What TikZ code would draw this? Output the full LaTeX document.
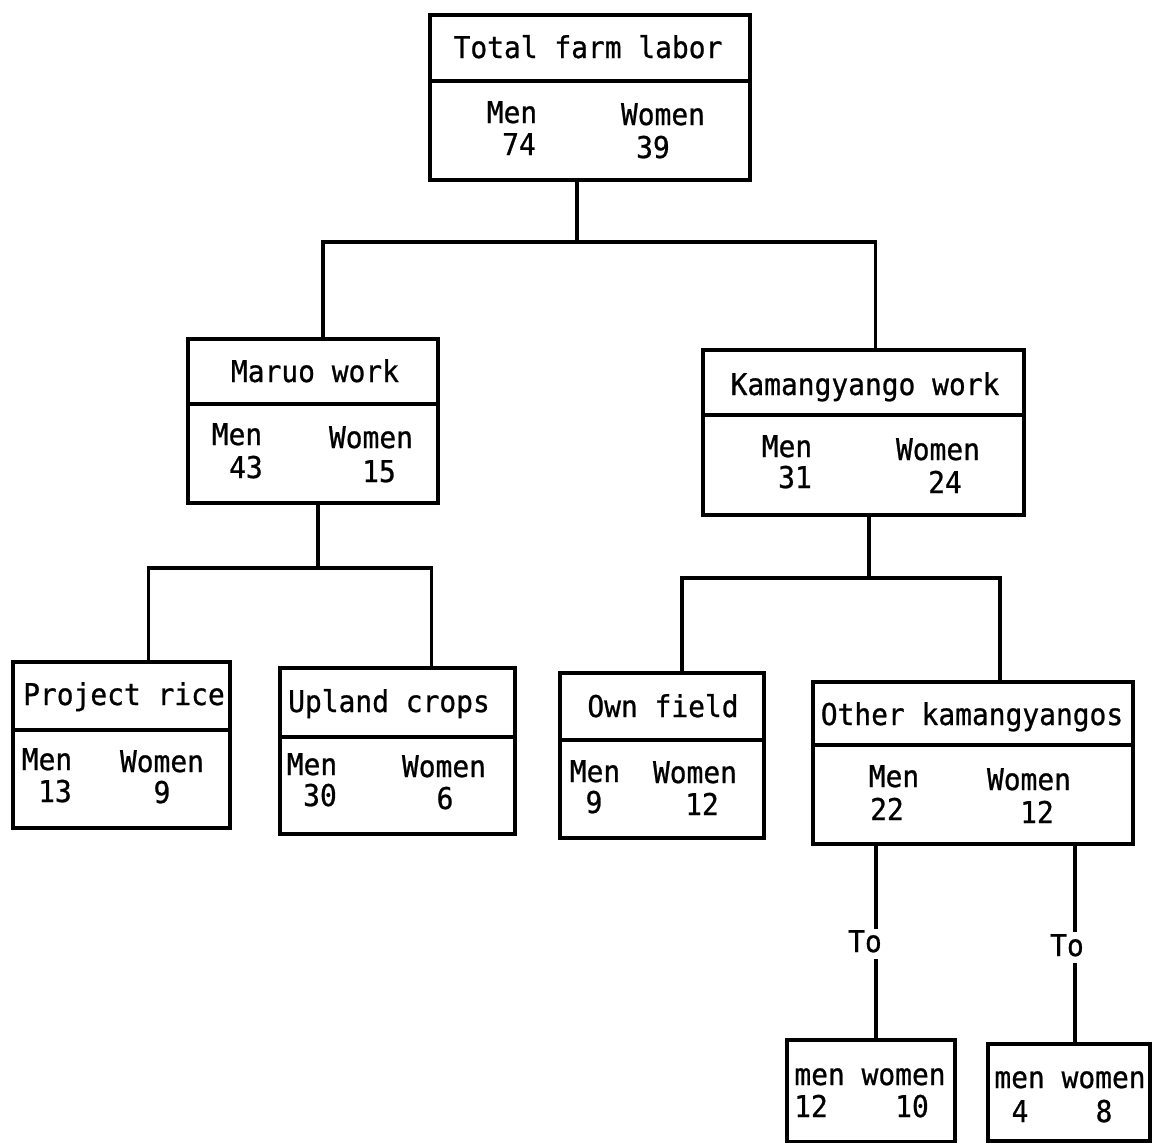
\documentclass[tikz,border=0pt]{standalone}
\usepackage{fontspec}
\newfontfamily\tw[FakeStretch=0.93,FakeBold=0.8]{DejaVu Sans Mono}
\begin{document}
\begin{tikzpicture}[x=1pt,y=-1pt,
  box/.style={draw,line width=3.4pt,rectangle,inner sep=0pt,outer sep=0pt},
  conn/.style={line width=3.4pt,line cap=rect,line join=miter},
  lbl/.style={font=\tw\fontsize{30}{32}\selectfont,inner sep=0pt,anchor=base},
  tolbl/.style={font=\tw\fontsize{30}{32}\selectfont,inner sep=0pt,anchor=base,text depth=8pt}]
\useasboundingbox (0,0) rectangle (1152,1143);
% boxes
\node[box,minimum width=320pt,minimum height=165pt] (tfl) at (590,97.5) {};
\node[box,minimum width=250pt,minimum height=164pt] (maruo) at (313,421) {};
\node[box,minimum width=321pt,minimum height=165pt] (kam) at (863.5,432.5) {};
\node[box,minimum width=217pt,minimum height=166pt] (rice) at (121.5,745) {};
\node[box,minimum width=235pt,minimum height=166pt] (upland) at (397.5,751) {};
\node[box,minimum width=204pt,minimum height=165pt] (own) at (662,755.5) {};
\node[box,minimum width=320pt,minimum height=162pt] (other) at (973,763) {};
\node[box,minimum width=168pt,minimum height=102pt] (b1) at (871,1091) {};
\node[box,minimum width=162pt,minimum height=97pt] (b2) at (1069,1092.5) {};
% dividers
\draw[conn] ([yshift=-66pt]tfl.north west) -- ([yshift=-66pt]tfl.north east);
\draw[conn] ([yshift=-65pt]maruo.north west) -- ([yshift=-65pt]maruo.north east);
\draw[conn] ([yshift=-65pt]kam.north west) -- ([yshift=-65pt]kam.north east);
\draw[conn] ([yshift=-68pt]rice.north west) -- ([yshift=-68pt]rice.north east);
\draw[conn] ([yshift=-69pt]upland.north west) -- ([yshift=-69pt]upland.north east);
\draw[conn] ([yshift=-67pt]own.north west) -- ([yshift=-67pt]own.north east);
\draw[conn] ([yshift=-63pt]other.north west) -- ([yshift=-63pt]other.north east);
% texts
\node[lbl] (t1) at (588,58) {Total farm labor};
\node[lbl] (t1m) at (512,123) {Men};
\node[lbl] (t1mv) at (519,155) {74};
\node[lbl] (t1w) at (663,125) {Women};
\node[lbl] (t1wv) at (653,158) {39};
\node[lbl] (t2) at (315,382) {Maruo work};
\node[lbl] (t2m) at (237,445) {Men};
\node[lbl] (t2mv) at (246,478) {43};
\node[lbl] (t2w) at (371,448) {Women};
\node[lbl] (t2wv) at (379,482) {15};
\node[lbl] (t3) at (865,395) {Kamangyango work};
\node[lbl] (t3m) at (787,457) {Men};
\node[lbl] (t3mv) at (795,488) {31};
\node[lbl] (t3w) at (938,460) {Women};
\node[lbl] (t3wv) at (945,493) {24};
\node[lbl] (t4) at (124,705) {Project rice};
\node[lbl] (t4m) at (47,770) {Men};
\node[lbl] (t4mv) at (55,802) {13};
\node[lbl] (t4w) at (162,772) {Women};
\node[lbl] (t4wv) at (162,803) {9};
\node[lbl] (t5) at (389,712) {Upland crops};
\node[lbl] (t5m) at (312,775) {Men};
\node[lbl] (t5mv) at (320,806) {30};
\node[lbl] (t5w) at (444,777) {Women};
\node[lbl] (t5wv) at (445,809) {6};
\node[lbl] (t6) at (663,717) {Own field};
\node[lbl] (t6m) at (595,782) {Men};
\node[lbl] (t6mv) at (594,813) {9};
\node[lbl] (t6w) at (695,783) {Women};
\node[lbl] (t6wv) at (702,815) {12};
\node[lbl] (t7) at (972,725) {Other kamangyangos};
\node[lbl] (t7m) at (894,787) {Men};
\node[lbl] (t7mv) at (887,820) {22};
\node[lbl] (t7w) at (1029,790) {Women};
\node[lbl] (t7wv) at (1037,823) {12};
\node[lbl] (t8) at (870,1085) {men women};
\node[lbl] (t8m) at (811,1117) {12};
\node[lbl] (t8w) at (912,1117) {10};
\node[lbl] (t9) at (1070,1088) {men women};
\node[lbl] (t9m) at (1020,1122) {4};
\node[lbl] (t9w) at (1104,1122) {8};
\node[tolbl,text height=25pt] (to1) at (865,952) {To};
\node[tolbl,text height=26pt] (to2) at (1067,956) {To};
% connectors
\coordinate (j1) at (577,242);
\draw[conn] (tfl.south -| j1) -- (j1);
\draw[conn] ([xshift=10pt]maruo.north) |- (j1) -| ([xshift=12pt]kam.north);
\coordinate (j2) at (318,568);
\draw[conn] (maruo.south -| j2) -- (j2);
\draw[conn] ([xshift=27pt]rice.north) |- (j2) -| ([xshift=34pt]upland.north);
\coordinate (j3) at (869,578);
\draw[conn] (kam.south -| j3) -- (j3);
\draw[conn] ([xshift=20pt]own.north) |- (j3) -| ([xshift=27pt]other.north);
\coordinate (x1) at (876,0);
\coordinate (x2) at (1075,0);
\draw[conn] (other.south -| x1) -- (to1.north -| x1);
\draw[conn] (to1.south -| x1) -- (b1.north -| x1);
\draw[conn] (other.south -| x2) -- (to2.north -| x2);
\draw[conn] (to2.south -| x2) -- (b2.north -| x2);
\end{tikzpicture}
\end{document}
